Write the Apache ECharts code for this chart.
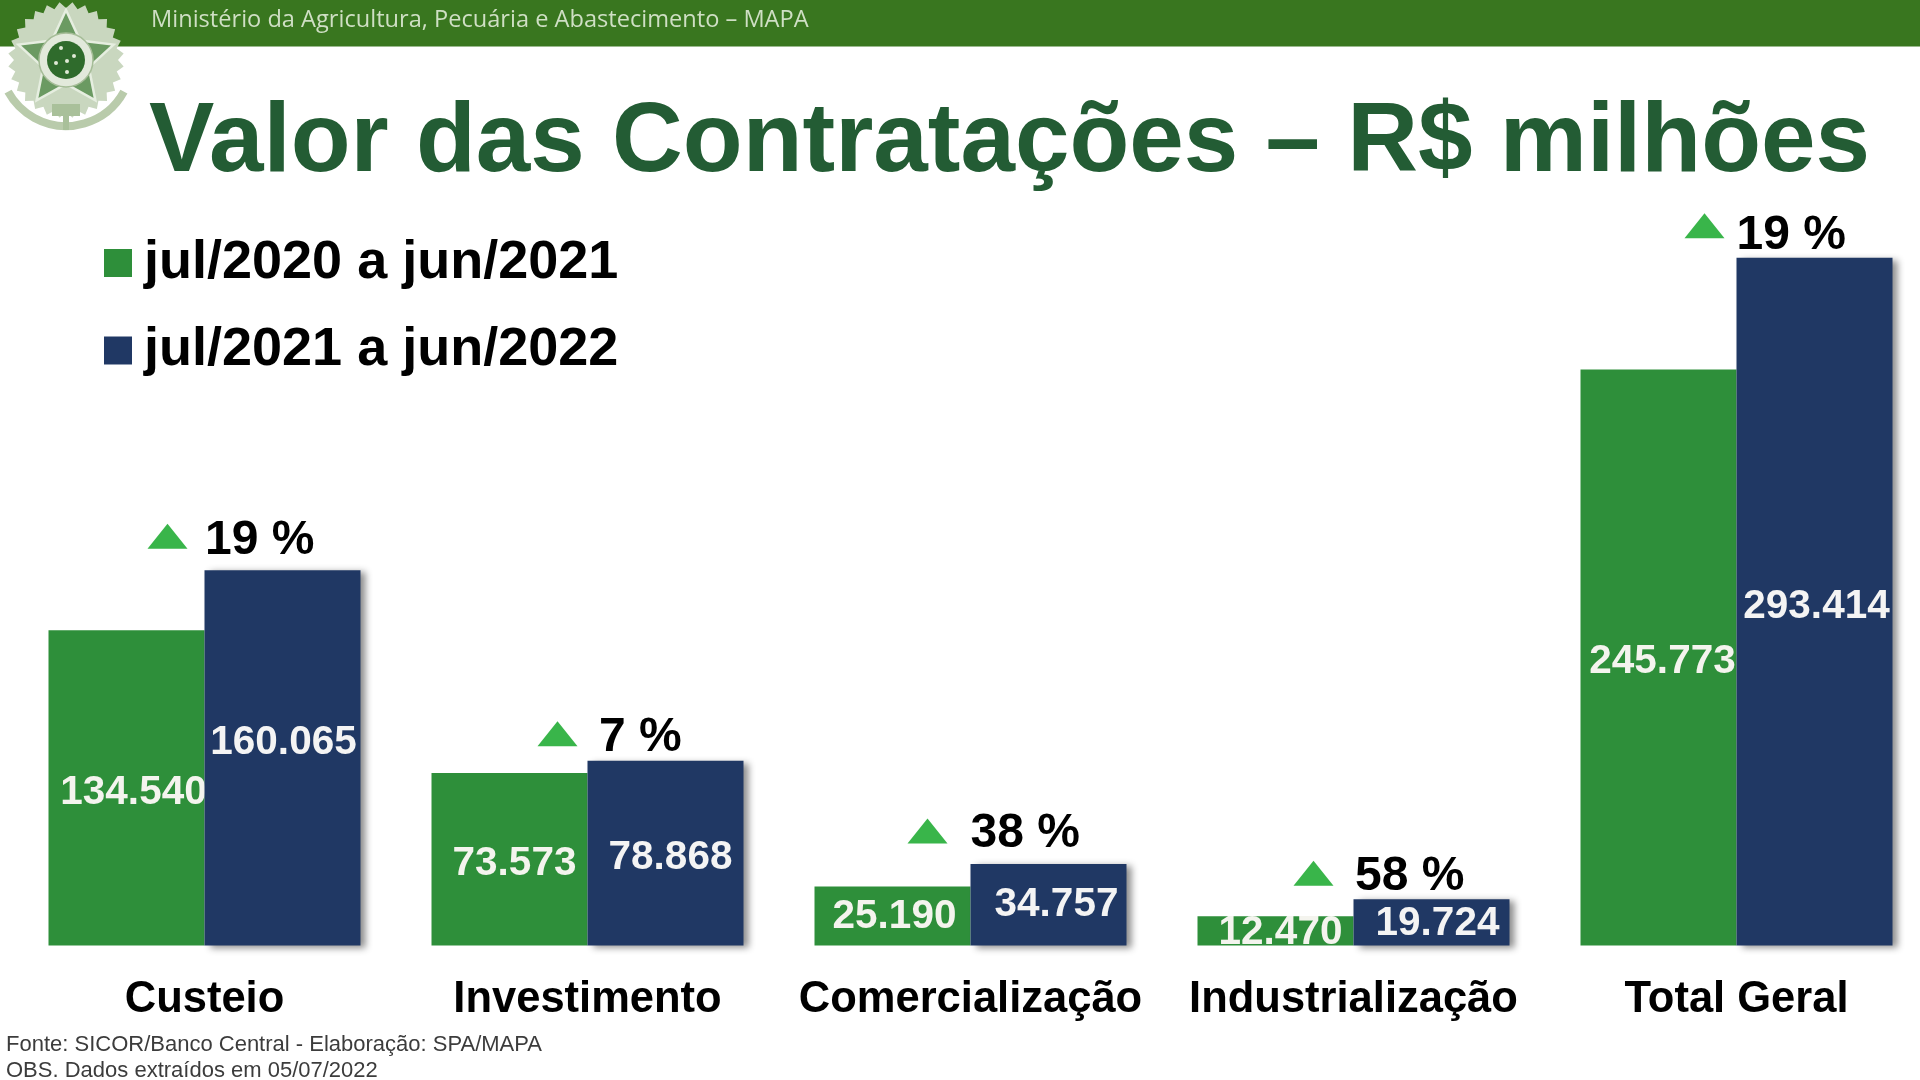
<!DOCTYPE html>
<html><head><meta charset="utf-8">
<style>html,body{margin:0;padding:0;background:#fff}#c{width:1920px;height:1080px}</style>
<script src="https://cdn.jsdelivr.net/npm/echarts@6/dist/echarts.min.js"></script>
</head><body><div id="c"></div>
<script>
var categories = ['Custeio','Investimento','Comercialização','Industrialização','Total Geral'];
var seriesNames = ['jul/2020 a jun/2021','jul/2021 a jun/2022'];
var values2021 = [134540,73573,25190,12470,245773];
var values2022 = [160065,78868,34757,19724,293414];
var growth = [19,7,38,58,19];

var GREEN='#2e8f3a', NAVY='#203864', TRI='#39b54a';
var fmt = function(v){ return String(v).replace(/(\d)(\d{3})$/,'$1.$2'); };
var triOffsets = [[-37,-34],[-30,-27],[-43,-33],[-40,-26],[-32,-32]];
var pctOffsets = [[-5,-30],[6,-22.5],[-5.5,-30],[-4,-22.5],[-5.5,-21.5]];
var greenLabelOffsets = [[7,5],[5,5],[2,1],[5,2],[4,4]];
var navyLabelOffsets = [[1,-15],[5,5],[8,0],[6,1],[2,5]];
var FONT='"Liberation Sans",Arial,sans-serif';

function emblem(){
  var cx=66, cy=60, g=[], pts=[], i, a, r;
  for(i=0;i<56;i++){ a=i/56*Math.PI*2; r=i%2?58:52; pts.push([cx+r*Math.cos(a),cy+r*Math.sin(a)]); }
  g.push({type:'arc',shape:{cx:cx,cy:cy,r:66,startAngle:0.5,endAngle:Math.PI-0.5},style:{stroke:'#b9cbab',lineWidth:8,fill:'none'},z:9});
  g.push({type:'rect',shape:{x:cx-3,y:cy+20,width:6,height:50},style:{fill:'#a9c09a'},z:9});
  g.push({type:'polygon',shape:{points:pts},style:{fill:'#c9d7bf'},z:10});
  var st=[]; for(i=0;i<10;i++){ a=-Math.PI/2+i/10*Math.PI*2; r=i%2?24:50; st.push([cx+r*Math.cos(a),cy+r*Math.sin(a)]); }
  g.push({type:'polygon',shape:{points:st},style:{fill:'#6b9a62',stroke:'#e6eee0',lineWidth:2.5},z:11});
  g.push({type:'circle',shape:{cx:cx,cy:cy,r:27},style:{fill:'#e2e9db',stroke:'#a6bd98',lineWidth:1.5},z:12});
  g.push({type:'circle',shape:{cx:cx,cy:cy,r:19},style:{fill:'#2f6b2c'},z:13});
  [[-5,-12],[8,-4],[1,1],[1,12],[-10,3]].forEach(function(p){
    g.push({type:'circle',shape:{cx:cx+p[0],cy:cy+p[1],r:2},style:{fill:'#dfe9d6'},z:14});
  });
  g.push({type:'rect',shape:{x:cx-14,y:cy+44,width:28,height:12},style:{fill:'#a9c09a'},z:14});
  return g;
}

var chart = echarts.init(document.getElementById('c'),null,{renderer:'canvas'});
chart.setOption({
  animation:false,
  backgroundColor:'#fff',
  textStyle:{fontFamily:FONT},
  title:[
    {text:'Valor das Contratações – R$ milhões',left:144,top:90,textStyle:{color:'#235c34',fontSize:98,fontWeight:'bold',fontFamily:FONT}},
    {text:'Ministério da Agricultura, Pecuária e Abastecimento – MAPA',left:146,top:3,textStyle:{color:'#cfdfc4',fontSize:23.6,fontWeight:'normal',fontFamily:'"Open Sans",sans-serif'}},
    {text:'Fonte: SICOR/Banco Central - Elaboração: SPA/MAPA',left:1,top:1029,textStyle:{color:'#3c3c3c',fontSize:22,fontWeight:'normal',fontFamily:FONT}},
    {text:'OBS. Dados extraídos em 05/07/2022',left:1,top:1055,textStyle:{color:'#3c3c3c',fontSize:22,fontWeight:'normal',fontFamily:FONT}}
  ],
  graphic:[{type:'rect',shape:{x:0,y:0,width:1920,height:46.5},style:{fill:'#39761f'},z:-1,silent:true}].concat(emblem()),
  legend:{
    data:seriesNames,orient:'vertical',left:99,top:231,itemWidth:28,itemHeight:28,itemGap:33.5,
    icon:'rect',textStyle:{fontSize:54,fontWeight:'bold',color:'#000',fontFamily:FONT,padding:[0,0,0,7]}
  },
  grid:{left:13,top:242.3,width:1915,height:703.2,outerBoundsMode:'none'},
  xAxis:{type:'category',data:categories,axisLine:{show:false},axisTick:{show:false},
    axisLabel:{interval:0,margin:32.5,fontSize:43.5,fontWeight:'bold',color:'#000',fontFamily:FONT}},
  yAxis:{type:'value',min:0,max:300000,show:false,splitLine:{show:false}},
  series:[
    {name:seriesNames[0],type:'bar',barWidth:156,barGap:0,
      data:values2021.map(function(v,i){return {value:v,label:{offset:greenLabelOffsets[i]}};}),
      itemStyle:{color:GREEN},z:2,
      label:{show:true,position:'inside',formatter:function(p){return fmt(p.value);},color:'#f4f4ee',fontSize:40.5,fontWeight:'bold',fontFamily:FONT}},
    {name:seriesNames[1],type:'bar',barWidth:156,barGap:0,
      data:values2022.map(function(v,i){return {value:v,label:{offset:navyLabelOffsets[i]}};}),
      itemStyle:{color:NAVY,shadowColor:'rgba(0,0,0,0.45)',shadowBlur:7,shadowOffsetX:5,shadowOffsetY:2},z:3,
      label:{show:true,position:'inside',formatter:function(p){return fmt(p.value);},color:'#f4f4f4',fontSize:40.5,fontWeight:'bold',fontFamily:FONT}},
    {name:'seta',type:'scatter',symbol:'triangle',symbolSize:[40,25],z:5,silent:true,
      itemStyle:{color:TRI,opacity:1},
      data:values2022.map(function(v,i){return {value:v,symbolOffset:triOffsets[i]};})},
    {name:'variação',type:'scatter',symbolSize:1,z:5,silent:true,itemStyle:{color:'rgba(0,0,0,0)',opacity:1},
      data:values2022.map(function(v,i){return {value:v,label:{offset:pctOffsets[i]}};}),
      label:{show:true,position:'right',formatter:function(p){return growth[p.dataIndex]+' %';},color:'#000',fontSize:48,fontWeight:'bold',fontFamily:FONT}}
  ]
});
</script></body></html>
